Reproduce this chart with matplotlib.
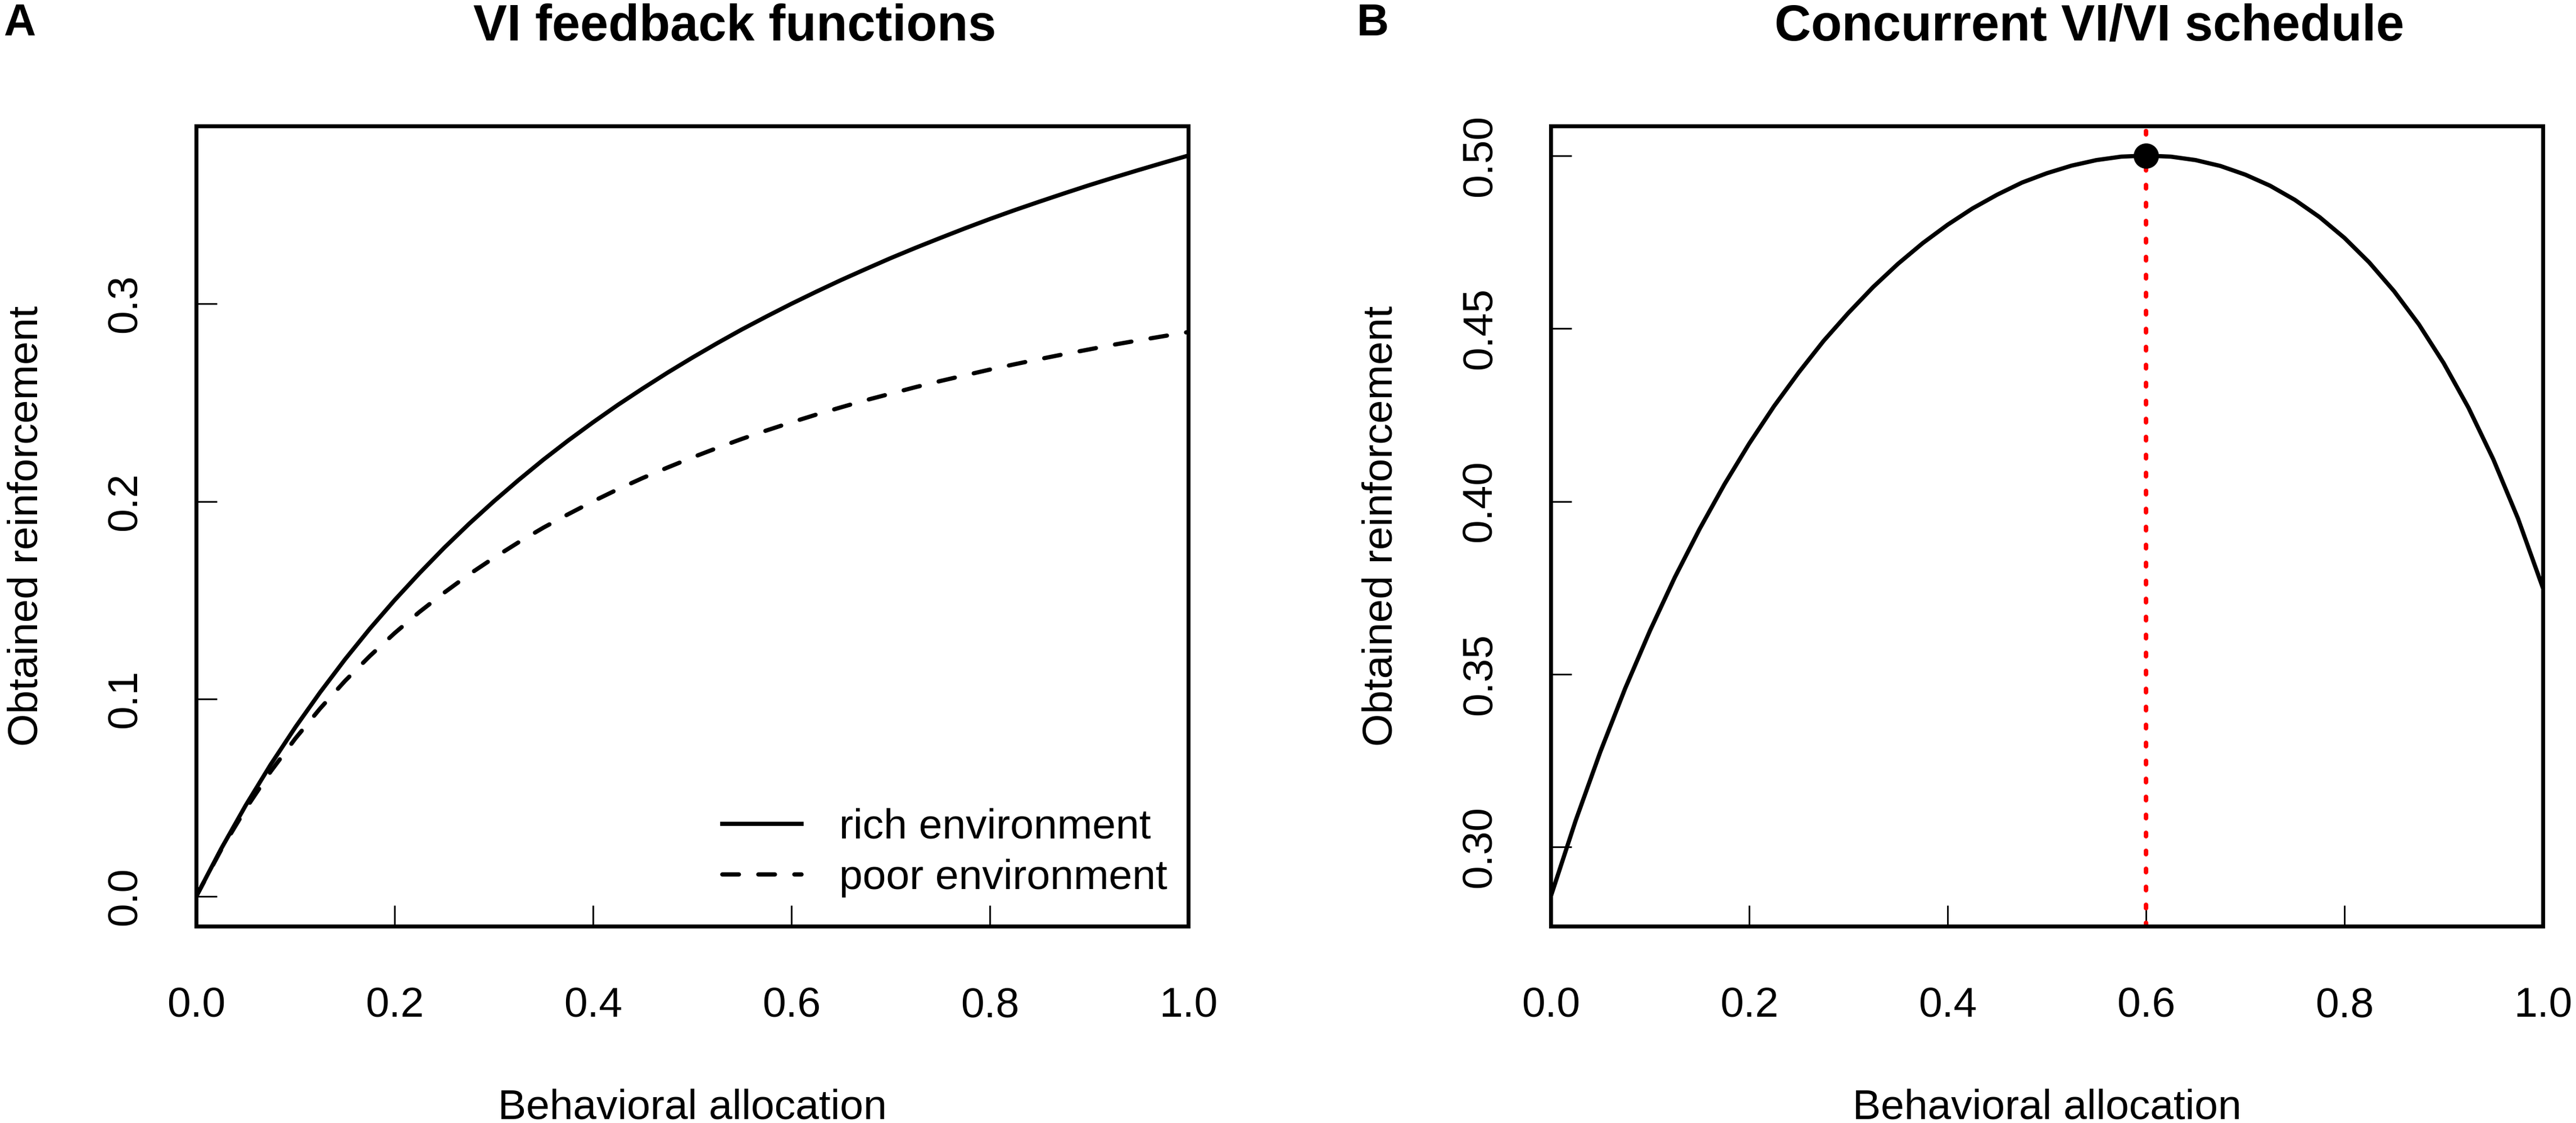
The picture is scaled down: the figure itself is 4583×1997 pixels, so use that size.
import numpy as np
import matplotlib
matplotlib.use('Agg')
import matplotlib.pyplot as plt

plt.rcParams['font.family'] = ['Liberation Sans', 'DejaVu Sans']

#Data
alloc = [0.0, 0.025, 0.05, 0.075, 0.1, 0.125, 0.15, 0.175, 0.2, 0.225,
         0.25, 0.275, 0.3, 0.325, 0.35, 0.375, 0.4, 0.425, 0.45, 0.475,
         0.5, 0.525, 0.55, 0.575, 0.6, 0.625, 0.65, 0.675, 0.7, 0.725,
         0.75, 0.775, 0.8, 0.825, 0.85, 0.875, 0.9, 0.925, 0.95, 0.975, 1.0]

rich = [0.0, 0.0240, 0.0462, 0.0667, 0.0857, 0.1034, 0.1200, 0.1355, 0.1500, 0.1636,
        0.1765, 0.1886, 0.2000, 0.2108, 0.2211, 0.2308, 0.2400, 0.2488, 0.2571, 0.2651,
        0.2727, 0.2800, 0.2870, 0.2936, 0.3000, 0.3061, 0.3120, 0.3176, 0.3231, 0.3283,
        0.3333, 0.3382, 0.3429, 0.3474, 0.3517, 0.3559, 0.3600, 0.3639, 0.3677, 0.3714, 0.3750]

poor = [0.0, 0.0235, 0.0444, 0.0632, 0.0800, 0.0952, 0.1091, 0.1217, 0.1333, 0.1440,
        0.1538, 0.1630, 0.1714, 0.1793, 0.1867, 0.1935, 0.2000, 0.2061, 0.2118, 0.2171,
        0.2222, 0.2270, 0.2316, 0.2359, 0.2400, 0.2439, 0.2476, 0.2512, 0.2545, 0.2578,
        0.2609, 0.2638, 0.2667, 0.2694, 0.2720, 0.2745, 0.2769, 0.2793, 0.2815, 0.2836, 0.2857]

concurrent = [0.2857, 0.3076, 0.3276, 0.3459, 0.3626, 0.3780, 0.3920, 0.4049, 0.4167, 0.4275,
              0.4373, 0.4464, 0.4545, 0.4620, 0.4687, 0.4747, 0.4800, 0.4847, 0.4887, 0.4922,
              0.4949, 0.4971, 0.4987, 0.4997, 0.5000, 0.4997, 0.4987, 0.4970, 0.4945, 0.4913,
              0.4872, 0.4822, 0.4762, 0.4691, 0.4608, 0.4512, 0.4400, 0.4271, 0.4122, 0.3950, 0.3750]

opt_x = 0.6
opt_y = 0.5

x_ticks = [0.0, 0.2, 0.4, 0.6, 0.8, 1.0]
x_labels = ['0.0', '0.2', '0.4', '0.6', '0.8', '1.0']
a_yticks = [0.0, 0.1, 0.2, 0.3]
a_ylabels = ['0.0', '0.1', '0.2', '0.3']
b_yticks = [0.30, 0.35, 0.40, 0.45, 0.50]
b_ylabels = ['0.30', '0.35', '0.40', '0.45', '0.50']

FS = 18
LW = 1.8


#R style padded range
def padded(lo, hi):
    span = hi - lo
    return lo - 0.04 * span, hi + 0.04 * span


def style_axes(ax, yticks, ylabels):
    for sp in ax.spines.values():
        sp.set_linewidth(1.68)
    ax.set_xlim(0, 1)
    ax.set_xticks(x_ticks)
    ax.set_xticklabels(x_labels)
    ax.set_yticks(yticks)
    ax.set_yticklabels(ylabels, rotation=90, va='center')
    ax.tick_params(axis='both', direction='in', length=8.9, width=0.7,
                   labelsize=FS, colors='black')
    ax.tick_params(axis='x', pad=25.8)
    ax.tick_params(axis='y', pad=21.9)
    ax.set_xlabel('Behavioral allocation', fontsize=FS)
    ax.set_ylabel('Obtained reinforcement', fontsize=FS)
    ax.xaxis.label.set_va('baseline')
    ax.yaxis.label.set_va('baseline')
    ax.xaxis.set_label_coords(0.5, -0.241)
    ax.yaxis.set_label_coords(-0.1603, 0.5)


fig = plt.figure(figsize=(4583 / 300, 1997 / 300), dpi=300)
ax1 = fig.add_axes([0.07615, 0.17526, 0.38512, 0.71257])
ax2 = fig.add_axes([0.60201, 0.17526, 0.38512, 0.71257])

#Panel A
ax1.plot(alloc, rich, color='black', lw=LW, label='rich environment')
ax1.plot(alloc, poor, color='black', lw=LW, dashes=(3.95, 4.6),
         dash_capstyle='round', label='poor environment')
ax1.set_ylim(*padded(min(rich + poor), max(rich + poor)))
style_axes(ax1, a_yticks, a_ylabels)
ax1.set_title('VI feedback functions', fontsize=21.6, fontweight='bold',
              x=0.543, y=1.1068, va='baseline', pad=0)
ax1.legend(loc='lower right', bbox_to_anchor=(0.979, 0.036), frameon=False,
           fontsize=FS, handlelength=1.88, handletextpad=0.89,
           labelspacing=0.28, borderpad=0, borderaxespad=0)

#Panel B
ax2.plot(alloc, concurrent, color='black', lw=LW, zorder=3)
ax2.axvline(opt_x, color='#ff0000', lw=1.92, dashes=(0.75, 3.25),
            dash_capstyle='round', zorder=2)
ax2.plot([opt_x], [opt_y], 'o', color='black', markersize=9.8, zorder=4)
ax2.set_ylim(*padded(min(concurrent), max(concurrent)))
style_axes(ax2, b_yticks, b_ylabels)
ax2.set_title('Concurrent VI/VI schedule', fontsize=21.6, fontweight='bold',
              x=0.543, y=1.1068, va='baseline', pad=0)

#Panel letters
fig.text(6 / 4583, 1 - 63 / 1997, 'A', fontsize=19, fontweight='bold',
         ha='left', va='baseline')
fig.text(2414 / 4583, 1 - 63 / 1997, 'B', fontsize=19, fontweight='bold',
         ha='left', va='baseline')

fig.savefig('out.png', dpi=300)
